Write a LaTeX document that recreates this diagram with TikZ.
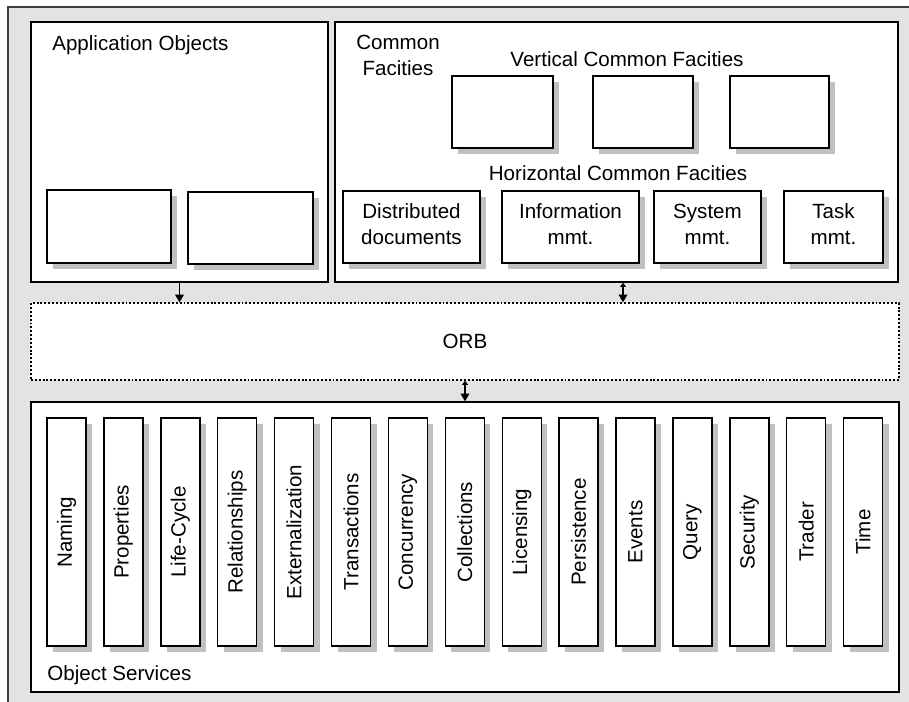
\documentclass[tikz,border=0pt]{standalone}
\usepackage{fontspec}
\setmainfont{Liberation Sans}
\usepackage{graphicx}
\usetikzlibrary{arrows.meta,shadows}
\definecolor{panelfill}{HTML}{E3E3E3}
\definecolor{shadowfill}{HTML}{C0C0C0}
\definecolor{frameline}{HTML}{404040}

\begin{document}
\begin{tikzpicture}[x=1cm,y=1cm,
 every node/.style={font=\fontsize{11.7}{14.8}\selectfont,inner sep=0pt},
 panel/.style={draw=black,fill=white,line width=.8pt},
 box/.style={draw=black,fill=white,line width=.8pt,align=center,
  drop shadow={shadow xshift=.12cm,shadow yshift=-.12cm,fill=shadowfill,opacity=1}},
 hbox/.style={box,minimum height=1.44cm,text depth=.12cm},
 svcbox/.style={box,minimum width=.78cm,minimum height=4.56cm},
 arr/.style={-{Triangle[length=4.4pt,width=5pt]},line width=.6pt},
 biarr/.style={{Triangle[length=2.4pt,width=3.4pt]}-{Triangle[length=4.4pt,width=5pt]},line width=.6pt}]
\useasboundingbox (0,0) rectangle (18.18,-14.02);
\fill[panelfill] (.16,-.14) rectangle (18.5,-14.5);
\draw[frameline,line width=.8pt] (.16,-14.5) |- (18.5,-.14);
\node[panel,minimum width=5.94cm,minimum height=5.2cm] (appobj) at (3.59,-3.04) {};
\node[panel,minimum width=11.26cm,minimum height=5.2cm] (commonfac) at (12.33,-3.04) {};
\node[panel,dash pattern=on 1.1pt off 1.1pt,minimum width=17.36cm,minimum height=1.54cm] (orb) at (9.30,-6.83) {ORB};
\node[panel,minimum width=17.36cm,minimum height=5.8cm] (objserv) at (9.30,-10.94) {};
\node[anchor=west] (apptitle) at (1.04,-.90) {Application Objects};
\node[align=center] (cftitle) at (7.96,-1.11) {Common\\Facities};
\node (verttitle) at (12.54,-1.18) {Vertical Common Facities};
\node (hortitle) at (12.36,-3.46) {Horizontal Common Facities};
\node[anchor=west] (ostitle) at (.94,-13.5) {Object Services};
\node[box,minimum width=2.48cm,minimum height=1.46cm] (app1) at (2.18,-4.53) {};
\node[box,minimum width=2.5cm,minimum height=1.44cm] (app2) at (5.01,-4.56) {};
\node[box,minimum width=2.02cm,minimum height=1.44cm] (vert1) at (10.05,-2.24) {};
\node[box,minimum width=2cm,minimum height=1.44cm] (vert2) at (12.86,-2.24) {};
\node[box,minimum width=1.98cm,minimum height=1.44cm] (vert3) at (15.59,-2.24) {};
\node[hbox,minimum width=2.74cm] (hor1) at (8.23,-4.54) {Distributed\\documents};
\node[hbox,minimum width=2.74cm] (hor2) at (11.41,-4.54) {Information\\mmt.};
\node[hbox,minimum width=2.14cm] (hor3) at (14.15,-4.54) {System\\mmt.};
\node[hbox,minimum width=1.98cm] (hor4) at (16.67,-4.54) {Task\\mmt.};
\foreach \name [count=\i from 0] in {Naming,Properties,Life-Cycle,Relationships,Externalization,
 Transactions,Concurrency,Collections,Licensing,Persistence,Events,Query,Security,Trader,Time}
 \node[svcbox] (svc\i) at ({1.33+1.138*\i},-10.64) {\rotatebox{90}{\name}};
\coordinate (cfout) at ([xshift=.13cm]commonfac.south);
\draw[arr] (appobj.south) -- (appobj.south |- orb.north);
\draw[biarr] (cfout) -- (cfout |- orb.north);
\draw[biarr] (orb.south) -- (objserv.north);
\end{tikzpicture}
\end{document}
